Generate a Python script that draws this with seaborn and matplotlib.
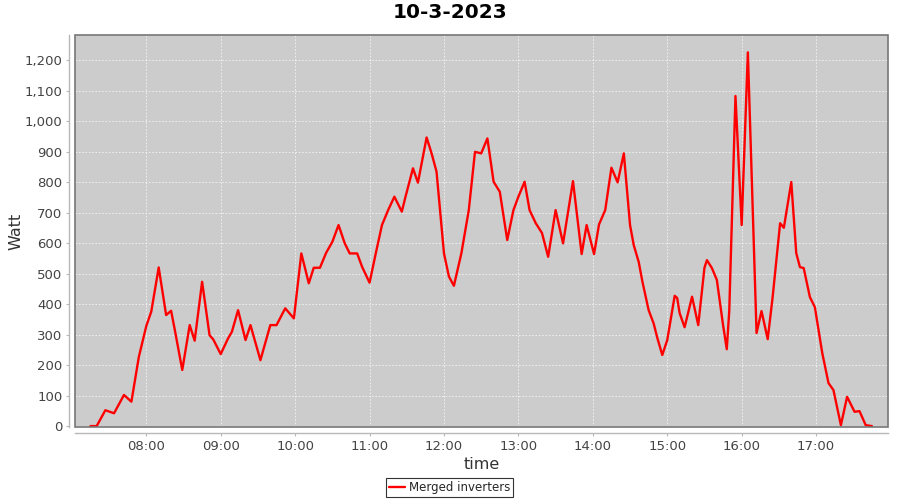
import pandas as pd
import matplotlib
matplotlib.use("Agg")
import matplotlib.pyplot as plt
import matplotlib.dates as mdates
import matplotlib.ticker as mticker
from matplotlib.patches import Rectangle
import seaborn as sns

# readings of the merged inverters on 10-3-2023
times = ["07:15", "07:20", "07:27", "07:34", "07:42", "07:48", "07:54", "08:00",
         "08:04", "08:10", "08:16", "08:20", "08:23", "08:29", "08:35", "08:39",
         "08:45", "08:51", "08:54", "09:00", "09:06", "09:09", "09:14", "09:20",
         "09:24", "09:32", "09:40", "09:45", "09:52", "09:59", "10:05", "10:11",
         "10:15", "10:20", "10:25", "10:30", "10:35", "10:40", "10:44", "10:50",
         "10:54", "11:00", "11:05", "11:10", "11:15", "11:20", "11:26", "11:29",
         "11:35", "11:39", "11:46", "11:50", "11:54", "12:00", "12:04", "12:08",
         "12:14", "12:20", "12:25", "12:30", "12:35", "12:40", "12:45", "12:51",
         "12:56", "13:00", "13:05", "13:09", "13:14", "13:19", "13:24", "13:30",
         "13:36", "13:44", "13:51", "13:55", "14:01", "14:05", "14:10", "14:15",
         "14:20", "14:25", "14:30", "14:33", "14:37", "14:40", "14:45", "14:49",
         "14:52", "14:56", "15:00", "15:06", "15:08", "15:10", "15:14", "15:20",
         "15:25", "15:30", "15:32", "15:36", "15:40", "15:45", "15:48", "15:50",
         "15:55", "16:00", "16:05", "16:12", "16:16", "16:21", "16:25", "16:31",
         "16:34", "16:40", "16:44", "16:47", "16:50", "16:55", "16:59", "17:05",
         "17:10", "17:14", "17:20", "17:25", "17:31", "17:35", "17:40", "17:45"]
watts = [0, 0, 52, 42, 102, 80, 227, 328,
         375, 520, 364, 378, 315, 184, 331, 280,
         473, 298, 284, 236, 288, 309, 380, 282,
         331, 216, 331, 331, 386, 353, 566, 468,
         519, 519, 568, 604, 659, 599, 566, 566,
         522, 470, 566, 659, 708, 752, 703, 752,
         845, 798, 946, 894, 834, 566, 490, 460,
         566, 708, 899, 894, 943, 801, 768, 610,
         708, 752, 801, 708, 665, 633, 555, 708,
         599, 803, 564, 659, 564, 661, 708, 847,
         799, 894, 659, 593, 538, 473, 380, 337,
         289, 233, 282, 427, 420, 370, 324, 424,
         331, 519, 544, 518, 479, 331, 252, 378,
         1082, 659, 1225, 305, 377, 285, 424, 665,
         650, 800, 567, 521, 518, 423, 390, 239,
         141, 118, 3, 96, 47, 49, 3, 0]

df = pd.DataFrame({"time": pd.to_datetime(["2023-03-10 " + t for t in times]),
                   "Watt": watts})

sns.set_style("white")
plt.rcParams['font.family'] = ['DejaVu Sans']

fig = plt.figure(figsize=(9, 5), dpi=100)
ax = fig.add_axes([0.0833, 0.146, 0.9034, 0.784])
ax.set_facecolor("#cccccc")

sns.lineplot(data=df, x="time", y="Watt", color="red", linewidth=1.7,
             label="Merged inverters", ax=ax, legend=False)

ax.set_xlim(pd.Timestamp("2023-03-10 07:02:30"), pd.Timestamp("2023-03-10 17:58:00"))
ax.set_ylim(-3, 1282)
ax.yaxis.set_major_locator(mticker.MultipleLocator(100))
ax.yaxis.set_major_formatter(mticker.StrMethodFormatter("{x:,.0f}"))
ax.xaxis.set_major_locator(mdates.HourLocator())
ax.xaxis.set_major_formatter(mdates.DateFormatter("%H:%M"))

ax.grid(True, color="#f4f4f4", linestyle=(0, (2, 2)), linewidth=0.6)
ax.set_axisbelow(True)

# axis lines sit a few pixels outside the plot border
for side in ["top", "right"]:
    ax.spines[side].set_visible(False)
for side in ["left", "bottom"]:
    ax.spines[side].set_position(("outward", 4))
    ax.spines[side].set_color("#b8b8b8")
    ax.spines[side].set_linewidth(1)
ax.add_patch(Rectangle((0, 0), 1, 1, transform=ax.transAxes, fill=False,
                       edgecolor="#777777", linewidth=1.2, clip_on=False, zorder=5))

ax.tick_params(axis="both", labelsize=9.5, colors="#b8b8b8", length=2,
               direction="out", left=True, bottom=True, pad=3)
for lab in ax.get_xticklabels() + ax.get_yticklabels():
    lab.set_color("#444444")

ax.set_xlabel("time", fontsize=11.5, color="#333333", labelpad=3)
ax.set_ylabel("Watt", fontsize=11.5, color="#333333", labelpad=1)
fig.suptitle("10-3-2023", fontsize=14.5, fontweight="bold", color="black", y=0.993)

handle = ax.get_lines()[0]
leg = fig.legend([handle], ["Merged inverters"], loc="center",
                 bbox_to_anchor=(0.4995, 0.025), frameon=True, fancybox=False,
                 edgecolor="black", fontsize=8.5, handlelength=1.4,
                 borderpad=0.25, handletextpad=0.3, borderaxespad=0)
leg.get_frame().set_linewidth(0.8)

fig.savefig("out.png", dpi=100)
